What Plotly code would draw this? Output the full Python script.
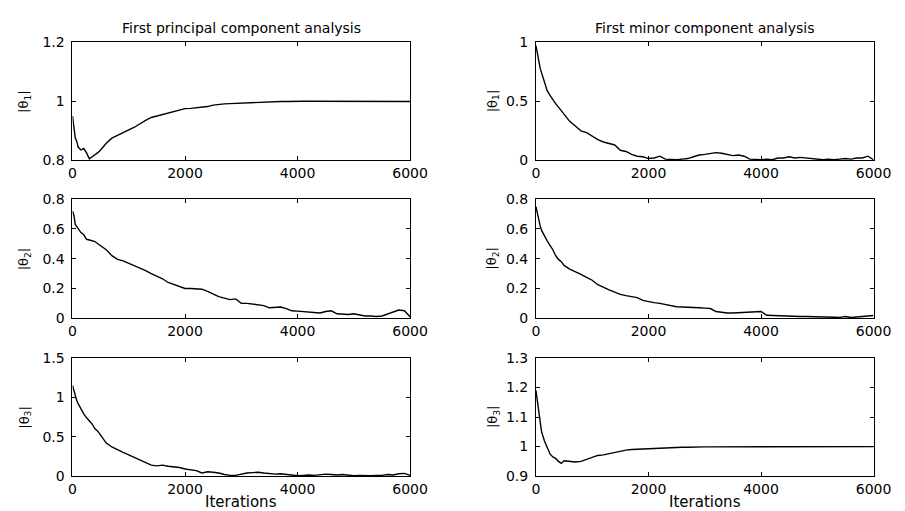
import plotly.graph_objects as go
from plotly.subplots import make_subplots

# Iteration grid
ITER = [0, 25, 50, 75, 100, 150, 200, 250, 300, 350, 400, 450, 500] + list(range(600, 6001, 100))

# First principal component analysis
pca_theta1 = ([0.95, 0.91, 0.875, 0.865, 0.845, 0.835, 0.84, 0.825, 0.805, 0.812, 0.818, 0.826, 0.835]
              + [0.858, 0.875, 0.885, 0.893, 0.903, 0.912, 0.925, 0.935, 0.945, 0.95]
              + [0.957, 0.962, 0.967, 0.972, 0.975, 0.976, 0.978, 0.979, 0.982, 0.987]
              + [0.99, 0.991, 0.992, 0.993, 0.994, 0.995, 0.995, 0.996, 0.997, 0.998]
              + [0.998, 0.999, 0.999, 1.0, 1.0, 1.0, 1.0, 1.0, 1.0, 1.0]
              + [1.0, 1.0, 1.0, 1.0, 1.0, 1.0, 1.0, 1.0, 1.0, 1.0]
              + [1.0, 1.0, 0.999, 0.999, 0.999])
pca_theta2 = ([0.72, 0.69, 0.63, 0.615, 0.6, 0.575, 0.56, 0.53, 0.525, 0.52, 0.515, 0.5, 0.485]
              + [0.46, 0.42, 0.395, 0.385, 0.37, 0.355, 0.34, 0.32, 0.3, 0.285]
              + [0.265, 0.24, 0.225, 0.21, 0.2, 0.2, 0.195, 0.195, 0.18, 0.16]
              + [0.145, 0.135, 0.125, 0.13, 0.1, 0.1, 0.095, 0.095, 0.085, 0.07]
              + [0.075, 0.075, 0.065, 0.05, 0.048, 0.045, 0.04, 0.035, 0.035, 0.045]
              + [0.05, 0.03, 0.025, 0.025, 0.03, 0.02, 0.015, 0.015, 0.012, 0.015]
              + [0.03, 0.045, 0.055, 0.05, 0.01])
pca_theta3 = ([1.15, 1.08, 1.0, 0.96, 0.92, 0.85, 0.79, 0.74, 0.7, 0.66, 0.6, 0.57, 0.52]
              + [0.42, 0.37, 0.33, 0.3, 0.27, 0.24, 0.21, 0.175, 0.14, 0.13]
              + [0.14, 0.125, 0.12, 0.11, 0.09, 0.08, 0.07, 0.04, 0.055, 0.05]
              + [0.04, 0.02, 0.01, 0.01, 0.025, 0.04, 0.045, 0.05, 0.04, 0.03]
              + [0.025, 0.03, 0.02, 0.01, 0.005, 0.01, 0.015, 0.01, 0.02, 0.025]
              + [0.02, 0.015, 0.02, 0.01, 0.005, 0.01, 0.005, 0.005, 0.01, 0.01]
              + [0.02, 0.015, 0.03, 0.035, 0.01])

# First minor component analysis
mca_theta1 = ([0.97, 0.9, 0.84, 0.78, 0.74, 0.66, 0.59, 0.55, 0.51, 0.48, 0.45, 0.42, 0.39]
              + [0.33, 0.29, 0.25, 0.235, 0.205, 0.175, 0.155, 0.14, 0.13, 0.085]
              + [0.075, 0.05, 0.035, 0.03, 0.015, 0.02, 0.035, 0.01, 0.005, 0.005]
              + [0.01, 0.015, 0.03, 0.045, 0.05, 0.06, 0.065, 0.06, 0.05, 0.04]
              + [0.045, 0.035, 0.01, 0.005, 0.005, 0.01, 0.005, 0.02, 0.02, 0.03]
              + [0.02, 0.025, 0.02, 0.015, 0.01, 0.005, 0.01, 0.005, 0.01, 0.015]
              + [0.01, 0.02, 0.02, 0.035, 0.005])
mca_theta2 = ([0.75, 0.7, 0.66, 0.62, 0.59, 0.55, 0.52, 0.49, 0.46, 0.42, 0.395, 0.38, 0.355]
              + [0.33, 0.315, 0.295, 0.275, 0.255, 0.225, 0.205, 0.19, 0.175, 0.16]
              + [0.152, 0.145, 0.138, 0.12, 0.11, 0.105, 0.1, 0.092, 0.085, 0.077]
              + [0.075, 0.072, 0.07, 0.07, 0.068, 0.065, 0.045, 0.038, 0.035, 0.035]
              + [0.036, 0.04, 0.04, 0.042, 0.045, 0.02, 0.018, 0.016, 0.015, 0.015]
              + [0.013, 0.012, 0.012, 0.012, 0.01, 0.012, 0.008, 0.007, 0.006, 0.012]
              + [0.005, 0.008, 0.01, 0.012, 0.018])
mca_theta3 = ([1.19, 1.15, 1.12, 1.08, 1.05, 1.02, 1.0, 0.975, 0.965, 0.96, 0.95, 0.943, 0.952]
              + [0.95, 0.948, 0.95, 0.956, 0.963, 0.97, 0.972, 0.976, 0.98, 0.985]
              + [0.988, 0.99, 0.991, 0.992, 0.994, 0.995, 0.996, 0.997, 0.997, 0.998]
              + [0.998, 0.998, 0.999, 0.999, 0.999, 0.999, 0.999, 1.0, 1.0, 1.0]
              + [1.0, 1.0, 1.0, 1.0, 1.0, 1.0, 1.0, 1.0, 1.0, 1.0]
              + [1.0, 1.0, 1.0, 1.0, 1.0, 1.0, 1.0, 1.0, 1.0, 1.0]
              + [1.0, 1.0, 1.0, 1.0, 1.0])

TITLES = ["First principal component analysis", "First minor component analysis"]
YLABELS = ["|θ<sub>1</sub>|", "|θ<sub>2</sub>|", "|θ<sub>3</sub>|"]
XLABEL = "Iterations"

SERIES = [[pca_theta1, mca_theta1], [pca_theta2, mca_theta2], [pca_theta3, mca_theta3]]
YRANGES = [[[0.8, 1.2], [0, 1]], [[0, 0.8], [0, 0.8]], [[0, 1.5], [0.9, 1.3]]]
YDTICK = [[0.2, 0.5], [0.2, 0.2], [0.5, 0.1]]

W, H = 905, 511
XDOM = [[62 / W, 408 / W], [537 / W, 883 / W]]
YDOM = [[1 - 149 / H, 1 - 27 / H], [1 - 312 / H, 1 - 189 / H], [1 - 475 / H, 1 - 353 / H]]

FONT = "DejaVu Sans, Liberation Sans, Arial, sans-serif"

fig = make_subplots(rows=3, cols=2)
for r in range(3):
    for c in range(2):
        fig.add_trace(go.Scatter(x=ITER, y=SERIES[r][c], mode="lines",
                                 line=dict(color="black", width=1.4), showlegend=False),
                      row=r + 1, col=c + 1)
        fig.update_xaxes(domain=XDOM[c], range=[0, 6000], dtick=2000, tick0=0,
                         showline=True, linecolor="black", linewidth=1, mirror="ticks",
                         ticks="inside", ticklen=4, tickcolor="black", showgrid=False,
                         zeroline=False, tickfont=dict(family=FONT, size=14, color="black"),
                         row=r + 1, col=c + 1)
        fig.update_yaxes(domain=YDOM[r], range=YRANGES[r][c], dtick=YDTICK[r][c], tick0=0,
                         showline=True, linecolor="black", linewidth=1, mirror="ticks",
                         ticks="inside", ticklen=4, tickcolor="black", showgrid=False,
                         zeroline=False, ticklabelstandoff=4,
                         tickfont=dict(family=FONT, size=14, color="black"),
                         row=r + 1, col=c + 1)

ann = []
for c in range(2):
    xc = (XDOM[c][0] + XDOM[c][1]) / 2
    ann.append(dict(text=TITLES[c], x=xc, y=1 - 12 / H, xref="paper", yref="paper",
                    xanchor="center", yanchor="middle", showarrow=False,
                    font=dict(family=FONT, size=14, color="black")))
    ann.append(dict(text=XLABEL, x=xc, y=1 - 502 / H, xref="paper", yref="paper",
                    xanchor="center", yanchor="middle", showarrow=False,
                    font=dict(family=FONT, size=15, color="black")))
    for r in range(3):
        yc = (YDOM[r][0] + YDOM[r][1]) / 2
        xl = 13 / W if c == 0 else 493 / W
        ann.append(dict(text=YLABELS[r], x=xl, y=yc, xref="paper", yref="paper",
                        xanchor="center", yanchor="middle", showarrow=False, textangle=-90,
                        font=dict(family=FONT, size=13, color="black")))

fig.update_layout(width=W, height=H, margin=dict(l=0, r=0, t=0, b=0),
                  paper_bgcolor="white", plot_bgcolor="white", annotations=ann)

fig.write_html("out.html")
